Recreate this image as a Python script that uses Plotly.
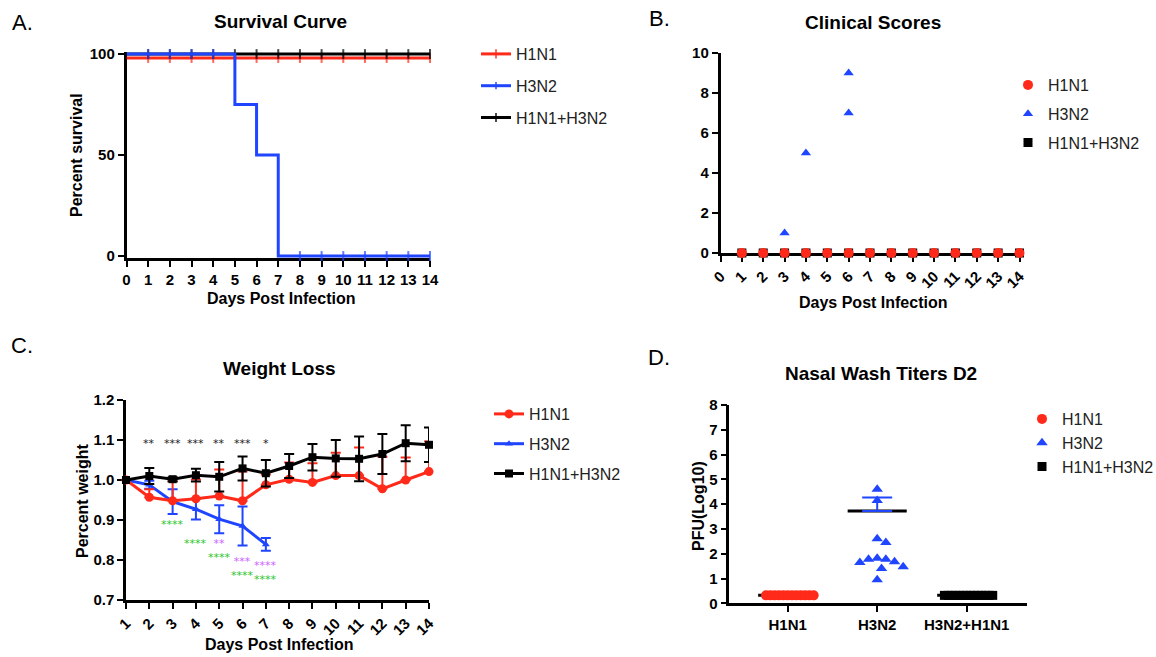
import numpy as np
import plotly.graph_objects as go

W, H = 1156, 657
FONT = "Arial, 'Liberation Sans', Helvetica, sans-serif"
STARFONT = "'DejaVu Sans', Arial, sans-serif"
RED = "#FF2A1A"
BLUE = "#1F45FF"
BLACK = "#000000"
GREEN = "#2BC62B"
PINK = "#CC66FF"
LEGTXT = "#222222"

# ---------------- data ----------------
# A. Survival curve (percent survival per day)
surv_days = list(range(0, 15))
surv_h1n1 = [100] * 15
surv_h3n2 = [100, 100, 100, 100, 100, 75, 50, 0, 0, 0, 0, 0, 0, 0, 0]
surv_combo = [100] * 15
H1N1_NUDGE = -2  # GraphPad draws coincident survival curves slightly offset

# B. Clinical scores
clin_days = list(range(1, 15))
clin_h1n1 = [0] * 14
clin_h3n2_days = [1, 2, 3, 4, 5, 6, 6]
clin_h3n2 = [0, 0, 1, 5, 0, 7, 9]
clin_combo = [0] * 14

# C. Weight loss (fraction of initial weight, mean and SEM)
wt_days = list(range(1, 15))
wt_h1n1 = [1.0, 0.957, 0.948, 0.953, 0.960, 0.948, 0.988, 1.002, 0.994, 1.011, 1.011, 0.978, 1.0, 1.021]
wt_h1n1_err = [0, 0.020, 0.048, 0.048, 0.066, 0.073, 0.026, 0.042, 0.048, 0.057, 0.070, 0.080, 0.056, 0.075]
wt_h3n2_days = [1, 2, 3, 4, 5, 6, 7]
wt_h3n2 = [1.0, 0.988, 0.946, 0.927, 0.902, 0.885, 0.839]
wt_h3n2_err = [0, 0.010, 0.031, 0.026, 0.035, 0.049, 0.016]
wt_combo = [1.0, 1.010, 1.002, 1.012, 1.008, 1.029, 1.017, 1.035, 1.057, 1.054, 1.053, 1.065, 1.092, 1.088]
wt_combo_err = [0, 0.020, 0.005, 0.016, 0.037, 0.030, 0.033, 0.030, 0.033, 0.046, 0.056, 0.050, 0.045, 0.043]

sig_black_days = [2, 3, 4, 5, 6, 7]
sig_black_txt = ["**", "***", "***", "**", "***", "*"]
sig_black_y = [1.1] * 6
sig_green_days = [3, 4, 5, 6, 7]
sig_green_txt = ["****"] * 5
sig_green_y = [0.897, 0.850, 0.819, 0.774, 0.759]
sig_pink_days = [5, 6, 7]
sig_pink_txt = ["**", "***", "****"]
sig_pink_y = [0.842, 0.798, 0.794]

# D. Nasal wash titers D2 (log10 PFU)
nw_groups = ["H1N1", "H3N2", "H3N2+H1N1"]
nw_h1n1 = [0.32] * 12
nw_h3n2 = [4.6, 4.15, 2.6, 2.45, 1.82, 1.78, 1.68, 1.47, 1.40, 1.65, 1.78, 0.95]
nw_combo = [0.32] * 14
nw_mean = [0.32, 3.72, 0.32]
nw_sem = [0, 0.55, 0]

# ---------------- layout geometry (pixels) ----------------
def xdom(l, r):
    return [l / W, r / W]

def ydom(top, bottom):
    return [1 - bottom / H, 1 - top / H]

A_X = (126.5, 430); A_Y = (52, 258); A_XR = [0, 14]; A_YR = [-1, 101]
B_X = (720.5, 1019.5); B_Y = (53, 253); B_XR = [0, 14]; B_YR = [0, 10]
C_X = (126, 429); C_Y = (400, 600); C_XR = [1, 14]; C_YR = [0.7, 1.2]
D_X = (729.3, 1026.7); D_Y = (405, 603.3); D_XR = [-0.652, 2.67]; D_YR = [0, 8]

fig = go.Figure()

# ---------- A ----------
def surv_trace(y, color, name, rank, nudge=0):
    # censor ticks on days without an event (no tick on day 0 or where the curve drops)
    sizes = [0 if (i == 0 or y[i] != y[i - 1]) else 7 for i in range(len(y))]
    return go.Scatter(
        x=surv_days, y=[v + nudge for v in y], mode="lines+markers", name=name,
        line=dict(color=color, width=3, shape="hv"),
        marker=dict(symbol="line-ns", size=sizes, color=color, line=dict(color=color, width=2)),
        xaxis="x", yaxis="y", legend="legend", legendgroup="a" + name, legendrank=rank,
        cliponaxis=False)

fig.add_trace(surv_trace(surv_h1n1, RED, "H1N1", 1, H1N1_NUDGE))
fig.add_trace(surv_trace(surv_combo, BLACK, "H1N1+H3N2", 3))
fig.add_trace(surv_trace(surv_h3n2, BLUE, "H3N2", 2))

# ---------- B ----------
fig.add_trace(go.Scatter(x=clin_days, y=clin_combo, mode="markers", name="H1N1+H3N2",
                         marker=dict(symbol="square", size=9, color=BLACK),
                         xaxis="x2", yaxis="y2", legend="legend2", legendgroup="b3", legendrank=3,
                         cliponaxis=False))
fig.add_trace(go.Scatter(x=clin_h3n2_days, y=clin_h3n2, mode="markers", name="H3N2",
                         marker=dict(symbol="triangle-up", size=9, color=BLUE),
                         xaxis="x2", yaxis="y2", legend="legend2", legendgroup="b2", legendrank=2,
                         cliponaxis=False))
fig.add_trace(go.Scatter(x=clin_days, y=clin_h1n1, mode="markers", name="H1N1",
                         marker=dict(symbol="circle", size=10, color=RED),
                         xaxis="x2", yaxis="y2", legend="legend2", legendgroup="b1", legendrank=1,
                         cliponaxis=False))

# ---------- C ----------
def wt_trace(x, y, err, color, symbol, size, name, rank, upper_only=False):
    ey = dict(type="data", array=err, visible=True, color=color, thickness=2, width=5)
    if upper_only:
        ey.update(symmetric=False, arrayminus=[0] * len(err))
    return go.Scatter(
        x=x, y=y, mode="lines+markers", name=name,
        line=dict(color=color, width=3),
        marker=dict(symbol=symbol, size=size, color=color),
        error_y=ey,
        xaxis="x3", yaxis="y3", legend="legend3", legendgroup="c" + name, legendrank=rank,
        cliponaxis=False)

fig.add_trace(wt_trace(wt_h3n2_days, wt_h3n2, wt_h3n2_err, BLUE, "triangle-up", 7, "H3N2", 2))
fig.add_trace(wt_trace(wt_days, wt_h1n1, wt_h1n1_err, RED, "circle", 9, "H1N1", 1, upper_only=True))
fig.add_trace(wt_trace(wt_days, wt_combo, wt_combo_err, BLACK, "square", 8, "H1N1+H3N2", 3))

# ---------- D ----------
d_px_x = (D_X[1] - D_X[0]) / (D_XR[1] - D_XR[0])
d_px_y = (D_Y[1] - D_Y[0]) / (D_YR[1] - D_YR[0])

def beeswarm(vals, d=10.5, max_half=26.0):
    vals = np.asarray(vals, dtype=float)
    ypx = vals * d_px_y
    offs = np.zeros(len(vals))
    placed = []
    step = d / 2
    for i in np.argsort(-vals, kind="stable"):
        k = 0
        while True:
            cands = [0.0] if k == 0 else [k * step, -k * step]
            ok = None
            for c in cands:
                if all((c - px) ** 2 + (ypx[i] - py) ** 2 >= d * d for px, py in placed):
                    ok = c
                    break
            if ok is not None:
                offs[i] = ok
                placed.append((ok, ypx[i]))
                break
            k += 1
    m = np.abs(offs).max()
    if m > max_half:
        offs = offs * max_half / m
    return offs / d_px_x

MEAN_HALF = 0.33
groups = [(nw_h1n1, RED, "circle", 10, "H1N1", 1),
          (nw_h3n2, BLUE, "triangle-up", 10, "H3N2", 2),
          (nw_combo, BLACK, "square", 9, "H1N1+H3N2", 3)]
for gi, (vals, color, sym, size, name, rank) in enumerate(groups):
    m = nw_mean[gi]
    fig.add_trace(go.Scatter(x=[gi - MEAN_HALF, gi + MEAN_HALF], y=[m, m], mode="lines",
                             line=dict(color=BLACK, width=3), showlegend=False,
                             xaxis="x4", yaxis="y4", hoverinfo="skip"))
    xs = gi + beeswarm(vals)
    fig.add_trace(go.Scatter(x=xs, y=vals, mode="markers", name=name,
                             marker=dict(symbol=sym, size=size, color=color),
                             xaxis="x4", yaxis="y4", legend="legend4", legendgroup="d" + name,
                             legendrank=rank, cliponaxis=False))
    if nw_sem[gi] > 0:
        fig.add_trace(go.Scatter(x=[gi], y=[m], mode="markers", marker=dict(size=1, opacity=0),
                                 error_y=dict(type="data", array=[nw_sem[gi]], arrayminus=[0],
                                              symmetric=False, color=BLUE, thickness=2, width=15),
                                 showlegend=False, xaxis="x4", yaxis="y4", hoverinfo="skip"))

# ---------------- axes ----------------
def axis(dom, rng, size, **kw):
    d = dict(domain=dom, range=rng, showline=True, linecolor="black", linewidth=2.5,
             ticks="outside", ticklen=6, tickwidth=2, tickcolor="black",
             showgrid=False, zeroline=False, layer="below traces", fixedrange=True,
             tickfont=dict(family=FONT, size=size, color="black", weight="bold"))
    d.update(kw)
    return d

fig.update_layout(
    width=W, height=H, margin=dict(l=0, r=0, t=0, b=0, autoexpand=False),
    paper_bgcolor="white", plot_bgcolor="white", showlegend=True,
    xaxis=axis(xdom(*A_X), A_XR, 15, anchor="y", tickmode="linear", tick0=0, dtick=1),
    yaxis=axis(ydom(*A_Y), A_YR, 15, anchor="x", tickvals=[0, 50, 100]),
    xaxis2=axis(xdom(*B_X), B_XR, 15, anchor="y2", tickmode="linear", tick0=0, dtick=1, tickangle=-45),
    yaxis2=axis(ydom(*B_Y), B_YR, 15, anchor="x2", tickvals=[0, 2, 4, 6, 8, 10]),
    xaxis3=axis(xdom(*C_X), C_XR, 15, anchor="y3", tickmode="linear", tick0=1, dtick=1, tickangle=-45),
    yaxis3=axis(ydom(*C_Y), C_YR, 15, anchor="x3", tickvals=[0.7, 0.8, 0.9, 1.0, 1.1, 1.2], tickformat=".1f"),
    xaxis4=axis(xdom(*D_X), D_XR, 15, anchor="y4", tickvals=[0, 1, 2], ticktext=nw_groups),
    yaxis4=axis(ydom(*D_Y), D_YR, 15, anchor="x4", tickvals=list(range(0, 9))),
)

def legend(xpx, ycpx, gap):
    return dict(x=xpx / W, y=1 - ycpx / H, xanchor="left", yanchor="middle",
                font=dict(family=FONT, size=16, color=LEGTXT), tracegroupgap=gap,
                bgcolor="rgba(0,0,0,0)", traceorder="grouped")

fig.update_layout(legend=legend(476, 86, 8), legend2=legend(1008, 114, 5),
                  legend3=legend(489, 444, 6), legend4=legend(1022, 443, 0))

# ---------------- text ----------------
def ann(text, x, y, size, bold=True, angle=0, color="black"):
    return dict(text=text, x=x / W, y=1 - y / H, xref="paper", yref="paper", showarrow=False,
                font=dict(family=FONT, size=size, color=color, weight="bold" if bold else "normal"),
                textangle=angle, xanchor="center", yanchor="middle")

anns = [
    ann("A.", 22, 22, 22, bold=False), ann("B.", 659, 19, 22, bold=False),
    ann("C.", 22, 345, 22, bold=False), ann("D.", 659, 357, 22, bold=False),
    ann("Survival Curve", 280, 21, 19), ann("Clinical Scores", 873, 22, 19),
    ann("Weight Loss", 279, 368, 19), ann("Nasal Wash Titers D2", 881, 373, 19),
    ann("Percent survival", 77, 155, 16, angle=-90), ann("Percent weight", 82, 501, 16, angle=-90),
    ann("PFU(Log10)", 698, 506, 16, angle=-90),
    ann("Days Post Infection", 281, 299, 16), ann("Days Post Infection", 873, 302, 16),
    ann("Days Post Infection", 279, 644, 16),
]

# significance stars: black row, and stacked pink/green per day
STAR_SIZE = 11
for dx, t, yy in zip(sig_black_days, sig_black_txt, sig_black_y):
    anns.append(dict(text=t, x=dx, y=yy, xref="x3", yref="y3", showarrow=False, yshift=-3,
                     font=dict(family=STARFONT, size=STAR_SIZE, color="#222222"),
                     xanchor="center", yanchor="middle"))
green = dict(zip(sig_green_days, zip(sig_green_txt, sig_green_y)))
pink = dict(zip(sig_pink_days, zip(sig_pink_txt, sig_pink_y)))
for dx in sorted(set(green) | set(pink)):
    parts, ys = [], []
    if dx in pink:
        parts.append(f"<span style='color:{PINK}'>{pink[dx][0]}</span>")
        ys.append(pink[dx][1])
    if dx in green:
        parts.append(f"<span style='color:{GREEN}'>{green[dx][0]}</span>")
        ys.append(green[dx][1])
    anns.append(dict(text="<br>".join(parts), x=dx, y=float(np.mean(ys)), xref="x3", yref="y3",
                     showarrow=False, yshift=-3,
                     font=dict(family=STARFONT, size=STAR_SIZE, color=GREEN),
                     xanchor="center", yanchor="middle"))
fig.update_layout(annotations=anns)

# remove the browser's default 8px page margin so the figure sits at the window origin
fig.write_html("out.html", config={"displayModeBar": False},
               post_script="document.body.style.margin='0';")
